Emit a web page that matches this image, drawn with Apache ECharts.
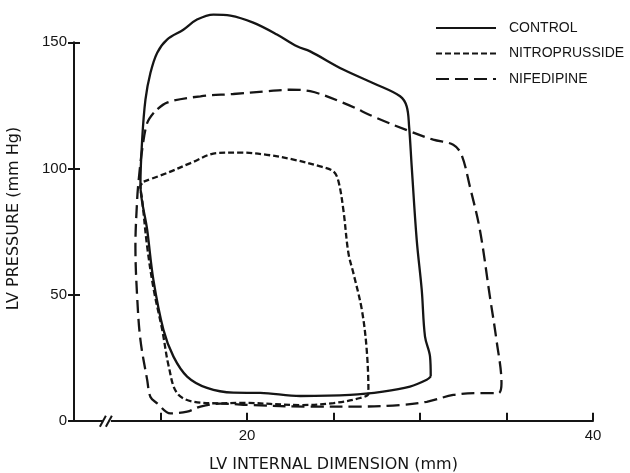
<!DOCTYPE html>
<html>
<head>
<meta charset="utf-8">
<script src="https://cdn.jsdelivr.net/npm/echarts@6.0.0/dist/echarts.min.js"></script>
<style>html,body{margin:0;padding:0;background:#fff;}#c{width:630px;height:473px;}</style>
</head>
<body>
<div id="c"></div>
<script>
var seriesNames = ['CONTROL', 'NITROPRUSSIDE', 'NIFEDIPINE'];
var xTickLabels = [20, 40];
var yTickValues = [0, 50, 100, 150];

var controlX = [30.62,30.58,30.29,30.10,29.81,29.52,29.37,29.23,28.85,27.50,25.56,23.65,22.89,21.73,20.36,19.04,18.06,17.11,16.32,15.38,14.81,14.42,14.13,13.94,13.84,14.23,14.59,15.17,15.75,16.54,17.69,19.21,20.77,23.08,25.96,27.86,29.42,30.39,30.62];
var controlY = [17.5,25.4,33.3,51.9,71.7,100.8,116.7,124.6,128.6,133.2,139.2,146.4,148.4,153.1,157.8,160.6,161.0,159.0,155.0,151.1,145.9,137.9,127.3,111.4,93.5,75.7,55.8,36.0,25.4,17.5,13.0,11.1,11.0,9.8,10.2,11.5,13.5,16.2,17.5];

var nitroX = [14.03,15.38,16.73,18.27,19.61,21.15,22.69,24.23,25.00,25.29,25.57,25.86,26.15,26.64,26.92,27.02,26.54,25.00,23.08,19.61,18.46,16.92,15.96,15.48,15.10,14.61,14.23,13.94,13.84,14.03];
var nitroY = [94.8,98.2,102.1,106.1,106.3,105.4,103.5,100.8,98.8,94.8,83.6,66.5,58.5,43.9,28.1,10.9,9.0,7.0,6.2,7.1,6.9,7.5,10.9,21.4,36.0,51.9,69.0,87.6,92.9,94.8];

var nifeX = [14.61,14.23,13.94,13.74,13.65,13.55,13.65,13.84,14.23,14.42,14.81,15.57,16.54,17.31,18.46,20.19,23.65,26.54,28.85,30.39,31.92,33.27,34.52,34.71,34.42,34.04,33.46,32.88,32.40,31.92,30.77,29.42,27.50,25.57,23.65,22.50,21.15,19.21,17.31,15.38,14.61];
var nifeY = [122.1,118.0,107.4,95.5,87.6,69.0,49.2,32.0,16.2,9.4,6.9,2.9,3.6,5.6,6.8,6.2,5.6,5.6,6.2,7.5,10.2,10.9,10.9,14.8,32.0,49.2,75.7,92.9,105.4,109.4,111.4,114.7,120.0,126.0,130.6,131.2,130.6,129.5,128.6,126.1,122.1];

function zip(xs, ys) { return xs.map(function (x, i) { return [x, ys[i]]; }); }

var chart = echarts.init(document.getElementById('c'), null, { renderer: 'canvas' });
var ink = '#151515';
var letterFont = '"Liberation Sans", Arial, sans-serif';
var digitFont = '"Liberation Sans", Arial, sans-serif';

function lineSeries(name, xs, ys, dash) {
  return {
    name: name, type: 'line', data: zip(xs, ys), smooth: 0.35, symbol: 'none',
    clip: false, animation: false,
    lineStyle: { color: ink, width: 2.3, type: dash, cap: 'butt' },
    itemStyle: { color: ink }
  };
}

chart.setOption({
  animation: false,
  backgroundColor: '#fff',
  grid: { left: 74, right: 37, top: 42.3, bottom: 52.3, containLabel: false, outerBoundsMode: 'none' },
  legend: {
    orient: 'vertical', left: 430, top: 16,
    itemWidth: 60, itemHeight: 14, itemGap: 11.5,
    data: seriesNames,
    itemStyle: { opacity: 0 },
    textStyle: { color: ink, fontSize: 14, lineHeight: 14, fontFamily: letterFont, padding: [0, 0, 0, 8] }
  },
  xAxis: {
    type: 'value', min: 10, max: 40, interval: 5,
    name: 'LV INTERNAL DIMENSION (mm)', nameLocation: 'middle', nameGap: 36,
    nameTextStyle: { color: ink, fontSize: 16, fontFamily: '"DejaVu Sans", sans-serif' },
    axisLine: { show: true, lineStyle: { color: ink, width: 2 } },
    axisTick: { show: true, inside: true, length: 8, lineStyle: { color: ink, width: 2 } },
    axisLabel: {
      color: ink, fontSize: 15, fontFamily: digitFont, margin: 8,
      formatter: function (v) { return xTickLabels.indexOf(v) >= 0 ? String(v) : ''; }
    },
    splitLine: { show: false }
  },
  yAxis: [{
    type: 'value', min: 0, max: 150, interval: 50,
    name: 'LV PRESSURE (mm Hg)', nameLocation: 'middle', nameGap: 52,
    nameTextStyle: { color: ink, fontSize: 16, fontFamily: '"DejaVu Sans", sans-serif', padding: [0, 0, 0, 26] },
    axisLine: { show: true, lineStyle: { color: ink, width: 2 } },
    axisTick: { show: true, inside: false, length: 6, lineStyle: { color: ink, width: 2 } },
    axisLabel: {
      color: ink, fontSize: 15, fontFamily: digitFont, margin: 7,
      formatter: function (v) { return yTickValues.indexOf(v) >= 0 ? String(v) : ''; }
    },
    splitLine: { show: false }
  }, {
    type: 'value', min: 0, max: 150, interval: 50, position: 'left',
    axisLine: { show: false },
    axisTick: { show: true, inside: true, length: 6, lineStyle: { color: ink, width: 2 } },
    axisLabel: { show: false },
    splitLine: { show: false }
  }],
  series: [
    lineSeries(seriesNames[0], controlX, controlY, 'solid'),
    lineSeries(seriesNames[1], nitroX, nitroY, [6, 3]),
    lineSeries(seriesNames[2], nifeX, nifeY, [13, 6])
  ]
});

// axis break mark "//" on the x axis
var bx = chart.convertToPixel({ xAxisIndex: 0 }, 11.9);
var by = chart.convertToPixel({ yAxisIndex: 0 }, 0);
chart.setOption({
  graphic: [
    { type: 'rect', shape: { x: bx - 4, y: by - 3, width: 8, height: 6 }, style: { fill: '#fff' }, z: 100 },
    { type: 'line', shape: { x1: bx - 7, y1: by + 6, x2: bx - 1, y2: by - 5 }, style: { stroke: ink, lineWidth: 2 }, z: 101 },
    { type: 'line', shape: { x1: bx - 1, y1: by + 6, x2: bx + 5, y2: by - 5 }, style: { stroke: ink, lineWidth: 2 }, z: 101 }
  ]
});
</script>
</body>
</html>
